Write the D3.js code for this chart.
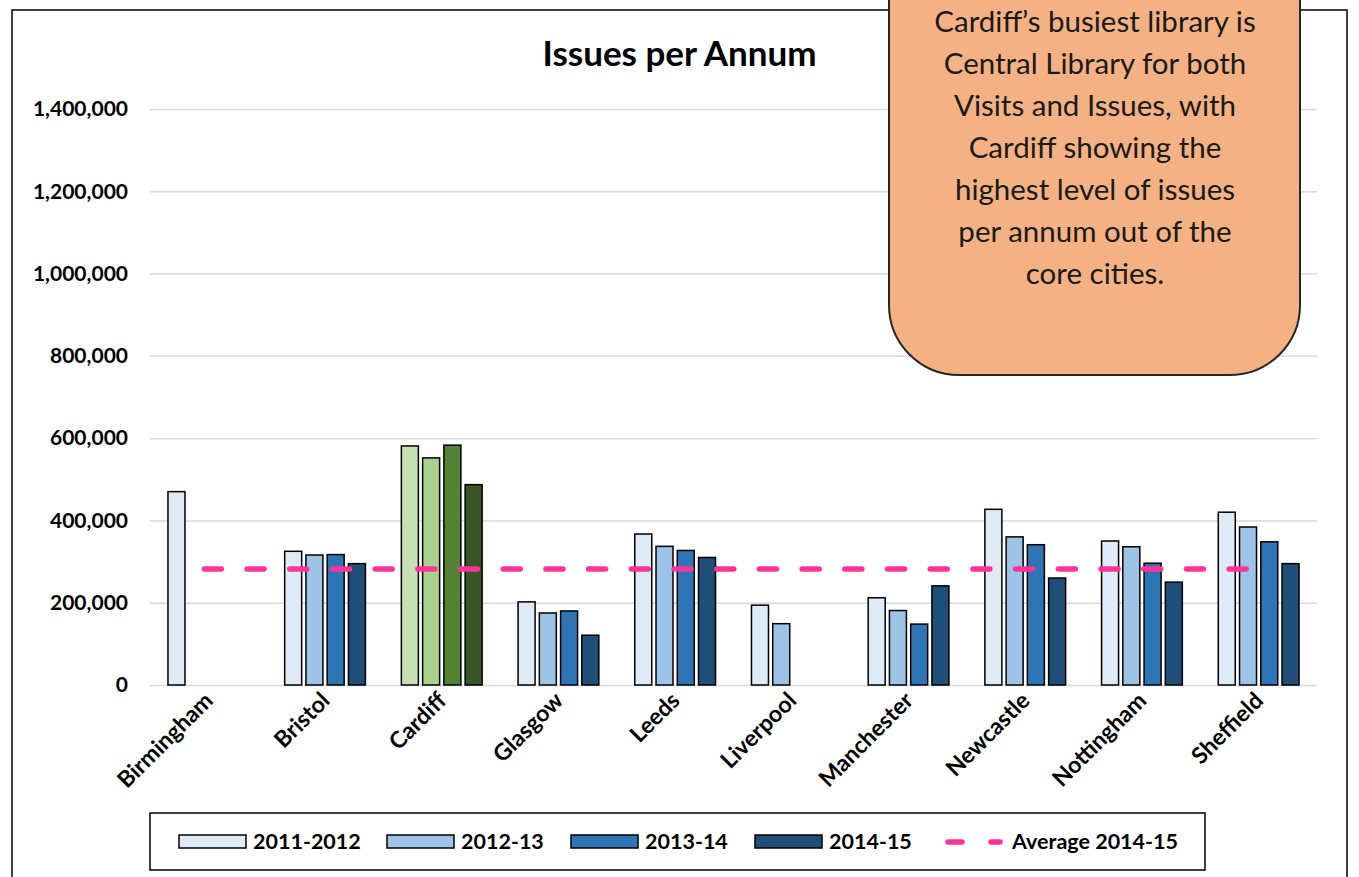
<!DOCTYPE html>
<html>
<head>
<meta charset="utf-8">
<script src="https://cdn.jsdelivr.net/npm/d3@7"></script>
<style>
  body { margin: 0; background: #fff; }
  text { font-family: Lato, "Open Sans", sans-serif; }
</style>
</head>
<body>
<svg id="chart" width="1359" height="877"></svg>
<script>
// data
const cities = ["Birmingham", "Bristol", "Cardiff", "Glasgow", "Leeds",
  "Liverpool", "Manchester", "Newcastle", "Nottingham", "Sheffield"];
const seriesNames = ["2011-2012", "2012-13", "2013-14", "2014-15"];
const issues2011 = [470000, 325000, 581000, 202000, 367000, 194000, 212000, 427000, 350000, 420000];
const issues2012 = [null, 316000, 552000, 175000, 337000, 149000, 181000, 360000, 336000, 384000];
const issues2013 = [null, 317000, 583000, 180000, 327000, null, 148000, 341000, 296000, 348000];
const issues2014 = [null, 295000, 487000, 121000, 310000, null, 241000, 260000, 250000, 295000];
const average2014 = 282000;
const yTicks = [0, 200000, 400000, 600000, 800000, 1000000, 1200000, 1400000];
const calloutLines = ["Cardiff\u2019s busiest library is", "Central Library for both",
  "Visits and Issues, with", "Cardiff showing the", "highest level of issues",
  "per annum out of the", "core cities."];

const blues = ["#deebf7", "#9dc3e6", "#2e75b6", "#1f4e79"];
const greens = ["#c5e0b4", "#a9d18e", "#548235", "#375623"];
const pink = "#ff3399";

const svg = d3.select("#chart");

// outer chart border
svg.append("rect")
  .attr("x", 12).attr("y", 10)
  .attr("width", 1335).attr("height", 880)
  .attr("fill", "none").attr("stroke", "#000").attr("stroke-width", 1.5);

const plot = { left: 150, right: 1317, top: 109, bottom: 685 };

let x = d3.scaleBand().domain(cities).range([plot.left, plot.right]);
let x1 = d3.scaleBand().domain(seriesNames).range([-42.5, 42.5])
  .paddingInner(0.2).paddingOuter(0.1);
let y = d3.scaleLinear().domain([0, 1400000]).range([plot.bottom, plot.top]);

// gridlines + tick labels
let yAxis = d3.axisLeft(y).tickValues(yTicks).tickFormat(d3.format(","))
  .tickSize(-(plot.right - plot.left)).tickPadding(22);
let gy = svg.append("g")
  .attr("transform", "translate(" + plot.left + ",0)")
  .call(yAxis);
gy.select(".domain").remove();
gy.selectAll("line").attr("stroke", "#d9d9d9").attr("stroke-width", 1.5);
gy.selectAll("text")
  .attr("font-size", 21).attr("font-weight", "bold").attr("fill", "#000");

// title
svg.append("text")
  .attr("x", 679.5).attr("y", 66)
  .attr("text-anchor", "middle")
  .attr("font-size", 35).attr("font-weight", "bold")
  .text("Issues per Annum");

// bars
const values = [issues2011, issues2012, issues2013, issues2014];
let rows = [];
cities.forEach(function(c, i) {
  seriesNames.forEach(function(s, j) {
    if (values[j][i] != null)
      rows.push({ city: c, series: s, j: j, v: values[j][i] });
  });
});

svg.append("g").selectAll("rect")
  .data(rows)
  .enter()
  .append("rect")
  .attr("x", d => x(d.city) + x.bandwidth() / 2 + x1(d.series))
  .attr("y", d => y(d.v))
  .attr("width", x1.bandwidth())
  .attr("height", d => y(0) - y(d.v))
  .attr("fill", d => d.city === "Cardiff" ? greens[d.j] : blues[d.j])
  .attr("stroke", "#000").attr("stroke-width", 1.5);

// average line
svg.append("line")
  .attr("x1", x(cities[0]) + x.bandwidth() / 2 - 4)
  .attr("x2", x(cities[cities.length - 1]) + x.bandwidth() / 2)
  .attr("y1", y(average2014)).attr("y2", y(average2014))
  .attr("stroke", pink).attr("stroke-width", 5.5)
  .attr("stroke-linecap", "round")
  .attr("stroke-dasharray", "17,25.7");

// category labels
svg.append("g").selectAll("text")
  .data(cities)
  .enter()
  .append("text")
  .attr("transform", d => "translate(" + (x(d) + x.bandwidth() / 2 + 6) + ",702) rotate(-45)")
  .attr("text-anchor", "end")
  .attr("font-size", 23).attr("font-weight", "bold")
  .text(d => d);

// legend
svg.append("rect")
  .attr("x", 150).attr("y", 813).attr("width", 1055).attr("height", 57)
  .attr("fill", "#fff").attr("stroke", "#000").attr("stroke-width", 1.5);

const legendX = [179, 387, 571, 755];
let lg = svg.append("g").selectAll("g")
  .data(seriesNames)
  .enter()
  .append("g")
  .attr("transform", (d, i) => "translate(" + legendX[i] + ",835)");
lg.append("rect")
  .attr("width", 67).attr("height", 13)
  .attr("fill", (d, i) => blues[i])
  .attr("stroke", "#000").attr("stroke-width", 1.5);
lg.append("text")
  .attr("x", 74).attr("y", 14)
  .attr("font-size", 21.5).attr("font-weight", "bold")
  .text(d => d);

svg.append("line")
  .attr("x1", 948).attr("x2", 1000).attr("y1", 842).attr("y2", 842)
  .attr("stroke", pink).attr("stroke-width", 5.5)
  .attr("stroke-linecap", "round")
  .attr("stroke-dasharray", "14,29");
svg.append("text")
  .attr("x", 1012).attr("y", 849)
  .attr("font-size", 21.5).attr("font-weight", "bold")
  .text("Average 2014-15");

// callout box
let callout = svg.append("g");
callout.append("path")
  .attr("d", "M889,-20 L1300,-20 L1300,305 A70,70 0 0 1 1230,375 L959,375 A70,70 0 0 1 889,305 Z")
  .attr("fill", "#f4b183").attr("stroke", "#262626").attr("stroke-width", 2);
callout.selectAll("text")
  .data(calloutLines)
  .enter()
  .append("text")
  .attr("x", 1095)
  .attr("y", (d, i) => 32 + i * 42)
  .attr("text-anchor", "middle")
  .attr("font-size", 29.5)
  .attr("fill", "#1a1a1a")
  .text(d => d);
</script>
</body>
</html>
